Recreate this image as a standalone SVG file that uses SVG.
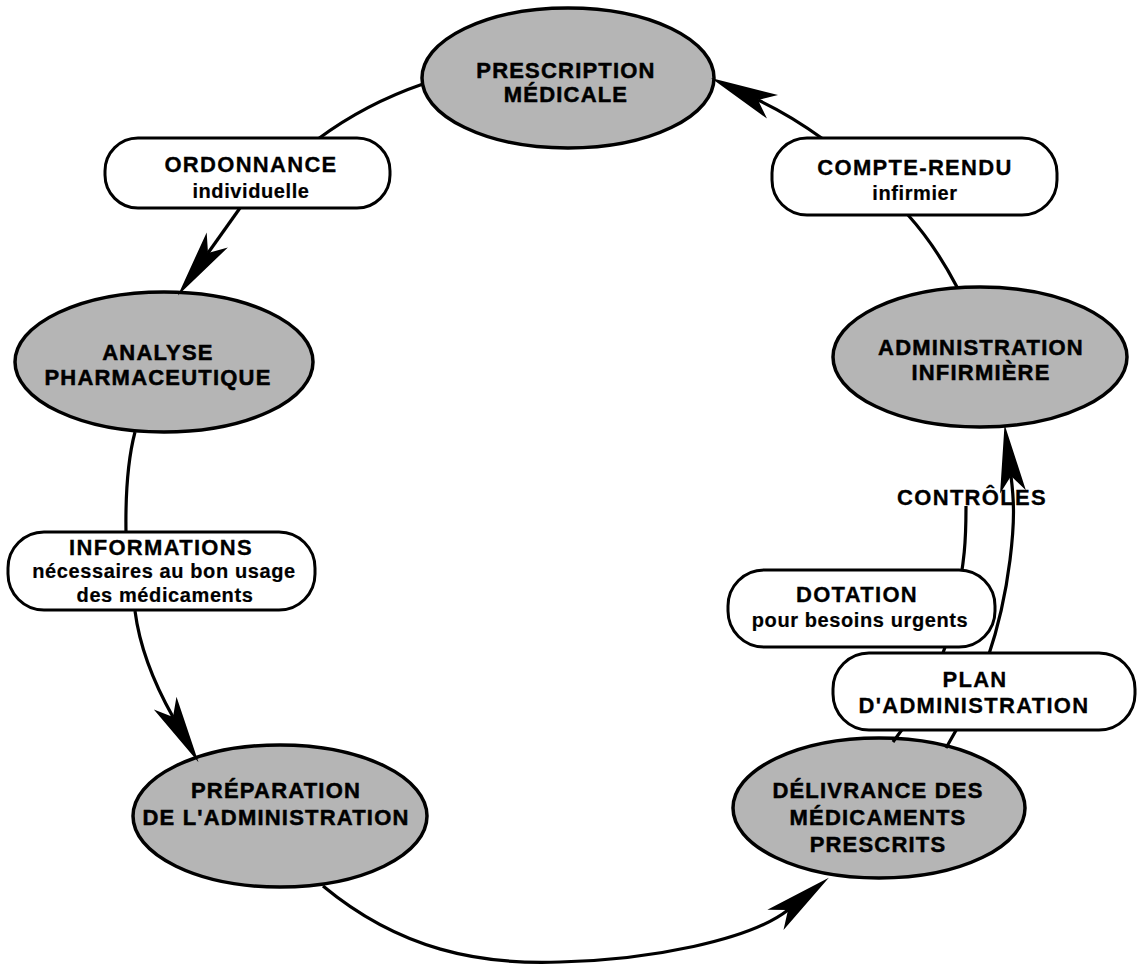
<svg xmlns="http://www.w3.org/2000/svg" width="1144" height="966" viewBox="0 0 1144 966">
<style>
.ell{fill:#b5b5b5;stroke:#000;stroke-width:3.5}
.box{fill:#fff;stroke:#000;stroke-width:3}
.et{font-family:"Liberation Sans",Arial,sans-serif;font-weight:bold;font-size:22px;letter-spacing:1.2px;text-anchor:middle;fill:#000;stroke:#000;stroke-width:0.5}
.bt{font-family:"Liberation Sans",Arial,sans-serif;font-weight:bold;font-size:22px;letter-spacing:1.3px;text-anchor:middle;fill:#000;stroke:#000;stroke-width:0.3}
.bs{font-family:"Liberation Sans",Arial,sans-serif;font-weight:bold;font-size:20px;letter-spacing:0.6px;text-anchor:middle;fill:#000;stroke:#000;stroke-width:0.2}
.ln{fill:none;stroke:#000;stroke-width:3.2}
.ar{marker-end:url(#arrow)}
</style>
<defs>
<marker id="arrow" markerUnits="userSpaceOnUse" markerWidth="70" markerHeight="30" viewBox="0 -15 70 30" refX="16" refY="0" orient="auto" overflow="visible">
<path d="M68,0 L0,-13 L16,0 L0,13 Z" fill="#000"/>
</marker>
</defs>
<rect width="1144" height="966" fill="#fff"/>
<g id="nodes-ellipses">
<g id="prescription"><ellipse class="ell" cx="568" cy="78" rx="146" ry="70"/><text class="et" x="566" y="78">PRESCRIPTION</text><text class="et" x="566" y="102">MÉDICALE</text></g>
<g id="administration"><ellipse class="ell" cx="980" cy="357" rx="147" ry="70"/><text class="et" x="981" y="355">ADMINISTRATION</text><text class="et" x="981" y="380">INFIRMIÈRE</text></g>
<g id="analyse"><ellipse class="ell" cx="164" cy="362" rx="149" ry="70"/><text class="et" x="158" y="360">ANALYSE</text><text class="et" x="158" y="385">PHARMACEUTIQUE</text></g>
<g id="preparation"><ellipse class="ell" cx="280" cy="816" rx="147" ry="71"/><text class="et" x="276" y="798">PRÉPARATION</text><text class="et" x="276" y="825">DE L'ADMINISTRATION</text></g>
<g id="delivrance"><ellipse class="ell" cx="879" cy="808" rx="146" ry="70"/><text class="et" x="878" y="798">DÉLIVRANCE DES</text><text class="et" x="878" y="825">MÉDICAMENTS</text><text class="et" x="878" y="852">PRESCRITS</text></g>
</g>
<g id="connectors">
<path class="ln" d="M423,84 Q365,104 318,139"/>
<path class="ln ar" d="M240,208 L208,253"/>
<path class="ln" d="M135,432 Q125,470 126,533"/>
<path class="ln ar" d="M135,611 C140,650 155,685 173,717"/>
<path class="ln ar" d="M323,886 C400,950 480,965 560,962 C650,960 750,940 788,910"/>
<path class="ln ar" d="M946,748 C975,700 1000,640 1010,560 C1015,520 1014,500 1011,476"/>
<path class="ln" d="M893,742 C925,700 945,660 955,610 S966,540 966,506"/>
<path class="ln" d="M957,287 Q935,245 908,215"/>
<path class="ln ar" d="M823,139 Q790,115 758,100"/>
</g>
<g id="nodes-boxes">
<g id="ordonnance"><rect class="box" x="105" y="138" width="285" height="70" rx="33"/><text class="bt" x="251" y="172">ORDONNANCE</text><text class="bs" x="251" y="198">individuelle</text></g>
<g id="compte-rendu"><rect class="box" x="772" y="138" width="285" height="77" rx="35"/><text class="bt" x="915" y="175">COMPTE-RENDU</text><text class="bs" x="915" y="200">infirmier</text></g>
<g id="informations"><rect class="box" x="8" y="532" width="307" height="78" rx="36"/><text class="bt" x="161" y="555">INFORMATIONS</text><text class="bs" x="164" y="578">nécessaires au bon usage</text><text class="bs" x="165" y="602">des médicaments</text></g>
<g id="dotation"><rect class="box" x="728" y="570" width="267" height="77" rx="36"/><text class="bt" x="857" y="602">DOTATION</text><text class="bs" x="860" y="627">pour besoins urgents</text></g>
<g id="plan"><rect class="box" x="833" y="653" width="302" height="77" rx="36"/><text class="bt" x="975" y="687">PLAN</text><text class="bt" x="974" y="713">D'ADMINISTRATION</text></g>
<g id="controles"><text class="bt" x="972" y="505">CONTRÔLES</text></g>
</g>
</svg>
